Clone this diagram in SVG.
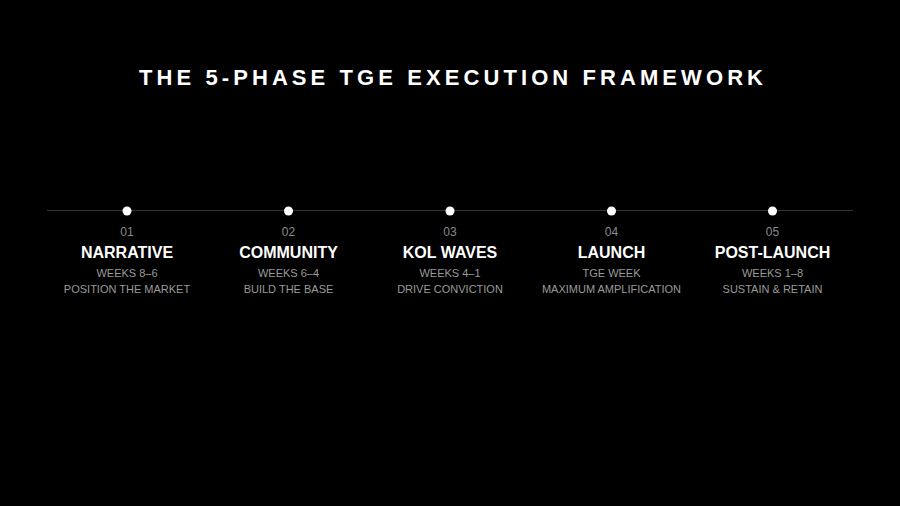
<svg xmlns="http://www.w3.org/2000/svg" width="900" height="506" viewBox="0 0 900 506">
<style>
text{font-family:"Liberation Sans",Arial,sans-serif;text-anchor:middle}
.title{font-size:22px;font-weight:bold;fill:#fff}
.num{font-size:12px;fill:#8a8a8a}
.name{font-size:16px;font-weight:bold;fill:#fff}
.sub{font-size:11px;fill:#9a9a9a}
.dot{fill:#fff}
</style>
<rect width="900" height="506" fill="#000"/>
<text class="title" x="451" y="85" textLength="624" lengthAdjust="spacing">THE 5-PHASE TGE EXECUTION FRAMEWORK</text>
<g id="connectors">
<line x1="47" y1="210.5" x2="853" y2="210.5" stroke="#333" stroke-width="1.2"/>
</g>
<g id="phase1">
<circle class="dot" cx="127" cy="211" r="4.5"/>
<text class="num" x="127" y="236">01</text>
<text class="name" x="127" y="258">NARRATIVE</text>
<text class="sub" x="127" y="277">WEEKS 8–6</text>
<text class="sub" x="127" y="293">POSITION THE MARKET</text>
</g>
<g id="phase2">
<circle class="dot" cx="288.5" cy="211" r="4.5"/>
<text class="num" x="288.5" y="236">02</text>
<text class="name" x="288.5" y="258">COMMUNITY</text>
<text class="sub" x="288.5" y="277">WEEKS 6–4</text>
<text class="sub" x="288.5" y="293">BUILD THE BASE</text>
</g>
<g id="phase3">
<circle class="dot" cx="450" cy="211" r="4.5"/>
<text class="num" x="450" y="236">03</text>
<text class="name" x="450" y="258">KOL WAVES</text>
<text class="sub" x="450" y="277">WEEKS 4–1</text>
<text class="sub" x="450" y="293">DRIVE CONVICTION</text>
</g>
<g id="phase4">
<circle class="dot" cx="611.5" cy="211" r="4.5"/>
<text class="num" x="611.5" y="236">04</text>
<text class="name" x="611.5" y="258">LAUNCH</text>
<text class="sub" x="611.5" y="277">TGE WEEK</text>
<text class="sub" x="611.5" y="293">MAXIMUM AMPLIFICATION</text>
</g>
<g id="phase5">
<circle class="dot" cx="772.5" cy="211" r="4.5"/>
<text class="num" x="772.5" y="236">05</text>
<text class="name" x="772.5" y="258">POST-LAUNCH</text>
<text class="sub" x="772.5" y="277">WEEKS 1–8</text>
<text class="sub" x="772.5" y="293">SUSTAIN &amp; RETAIN</text>
</g>
</svg>
